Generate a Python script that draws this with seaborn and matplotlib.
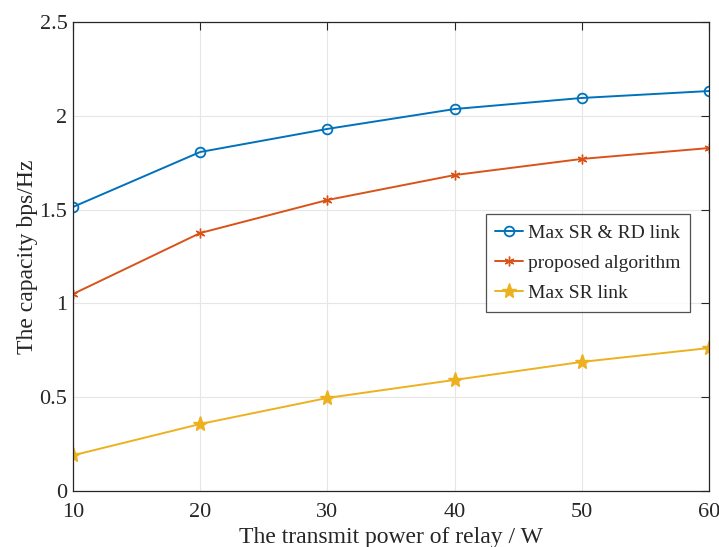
import matplotlib
matplotlib.use("Agg")
import matplotlib.pyplot as plt
import seaborn as sns
import pandas as pd

power = [10, 20, 30, 40, 50, 60]
max_sr_rd = [1.514, 1.807, 1.930, 2.036, 2.095, 2.132]
proposed = [1.050, 1.375, 1.551, 1.684, 1.770, 1.828]
max_sr = [0.190, 0.357, 0.496, 0.592, 0.688, 0.762]
labels = ["Max SR & RD link", "proposed algorithm", "Max SR link"]

sns.set_theme(style="white")
plt.rcParams['font.family'] = ['Liberation Serif', 'DejaVu Serif']
plt.rcParams['mathtext.fontset'] = 'stix'

fig = plt.figure(figsize=(7.19, 5.47), dpi=100)
ax = fig.add_axes([0.1015, 0.1024, 0.8845, 0.8574])

colors = ["#0072BD", "#D95319", "#EDB120"]
markers = ["o", (6, 2, 0), "*"]
msizes = [7, 7, 11]
series = [max_sr_rd, proposed, max_sr]
for vals, lab, c, m, ms in zip(series, labels, colors, markers, msizes):
    df = pd.DataFrame({"x": power, "y": vals})
    if m == "o":
        sns.lineplot(data=df, x="x", y="y", ax=ax, color=c, label=lab, lw=1.4,
                     marker=m, markersize=ms, markerfacecolor="none",
                     markeredgecolor=c, markeredgewidth=1.3)
    else:
        sns.lineplot(data=df, x="x", y="y", ax=ax, color=c, label=lab, lw=1.4,
                     marker=m, markersize=ms, markerfacecolor=c,
                     markeredgecolor=c, markeredgewidth=1.0)

ax.set_xlim(10, 60)
ax.set_ylim(0, 2.5)
ax.set_xticks([10, 20, 30, 40, 50, 60])
ax.set_yticks([0, 0.5, 1, 1.5, 2, 2.5])
ax.set_yticklabels(["0", "0.5", "1", "1.5", "2", "2.5"])
ax.grid(True, color="#e6e6e6", lw=0.8)
for s in ax.spines.values():
    s.set_visible(True)
    s.set_color("#262626")
    s.set_linewidth(0.9)
ax.tick_params(direction="in", length=6, width=0.8, top=True, right=True,
               labelsize=16, colors="#262626")
ax.tick_params(axis="x", pad=9)
ax.tick_params(axis="y", pad=4)
ax.set_xlabel("The transmit power of relay / W", fontsize=17, color="#262626", labelpad=3)
ax.set_ylabel("The capacity bps/Hz", fontsize=17, color="#262626", labelpad=1)

leg = ax.legend(loc="lower left", bbox_to_anchor=(0.649, 0.382), fontsize=14,
                frameon=True, fancybox=False, edgecolor="#262626",
                handlelength=1.4, handletextpad=0.25, borderpad=0.5,
                labelspacing=0.65, borderaxespad=0)
leg.get_frame().set_linewidth(0.9)

fig.savefig("out.png", dpi=100)
